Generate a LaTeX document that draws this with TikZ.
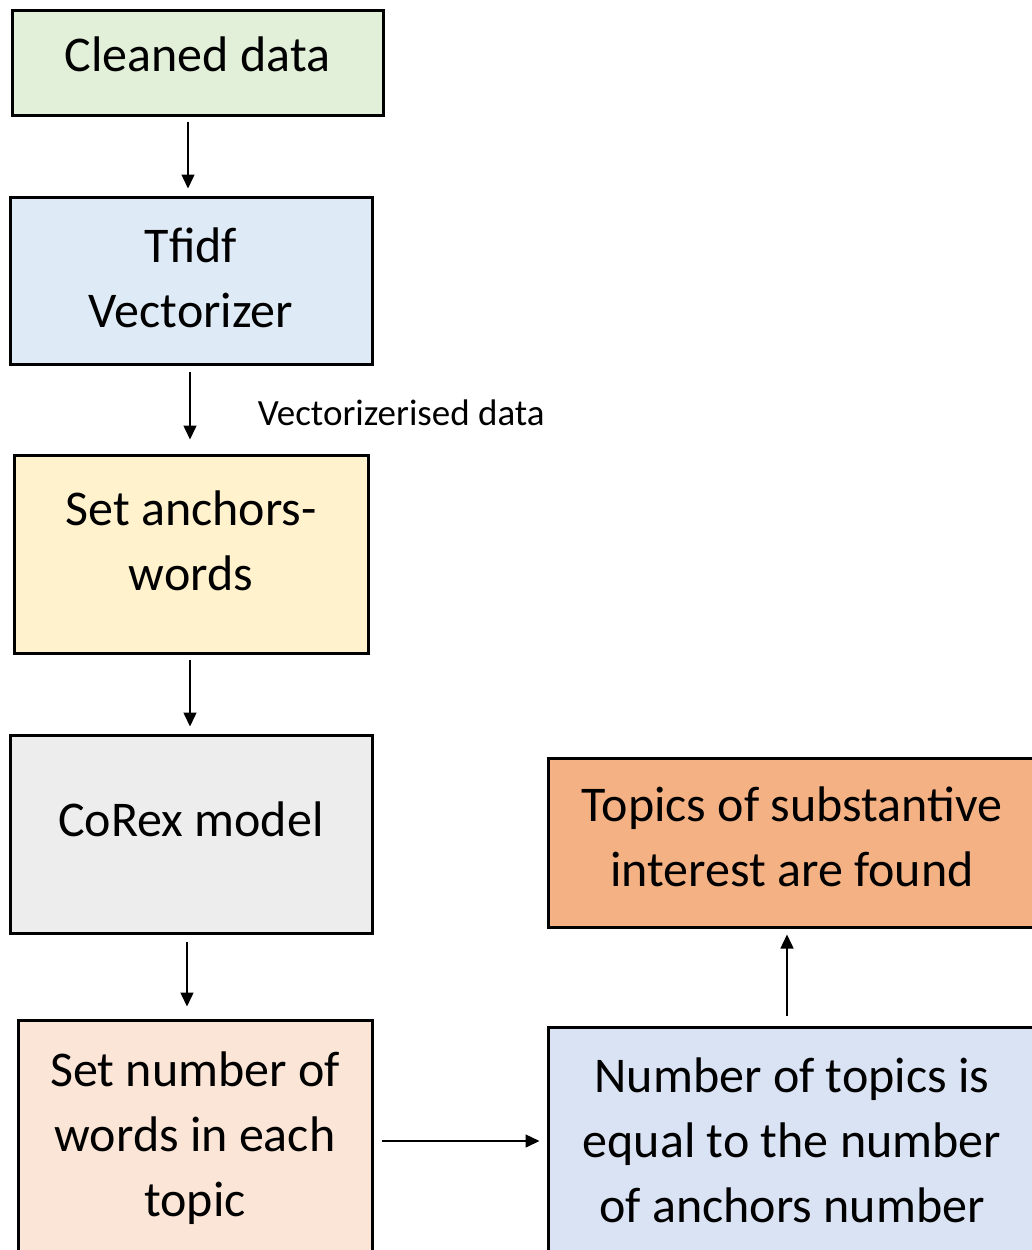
\documentclass[tikz,border=0pt]{standalone}
\usepackage{fontspec}
\setmainfont{Carlito}
\usetikzlibrary{arrows.meta}
\definecolor{cgreen}{HTML}{E2F0D9}
\definecolor{cblue}{HTML}{DEEBF7}
\definecolor{cyellow}{HTML}{FFF2CC}
\definecolor{cgrey}{HTML}{EDEDED}
\definecolor{cpeach}{HTML}{FBE5D6}
\definecolor{cslate}{HTML}{DAE3F3}
\definecolor{corange}{HTML}{F4B183}
% centred lines of text, lifted by #1 without changing the box size
\newcommand\boxtext[2]{\raisebox{#1}[\height][\depth]{\begin{tabular}{@{}c@{}}#2\end{tabular}}}
\tikzset{
  box/.style={draw=black, line width=3pt, inner sep=0pt, align=center,
    font=\fontsize{50}{65}\selectfont},
  arr/.style={line width=1.5pt, -{Triangle[length=14pt,width=13pt]}},
  lbl/.style={font=\fontsize{37}{42}\selectfont, inner sep=0pt}
}
\begin{document}
\begin{tikzpicture}[x=1pt,y=-1pt]
\useasboundingbox (0,0) rectangle (1032,1250);
\clip (0,0) rectangle (1032,1250);
% process steps
\node[box, fill=cgreen, minimum width=371pt, minimum height=105pt] (clean) at (197.5,62.5) {\boxtext{4pt}{Cleaned data}};
\node[box, fill=cblue, minimum width=362pt, minimum height=167pt] (tfidf) at (191,280.5) {\boxtext{-1pt}{Tfidf\\Vectorizer}};
\node[box, fill=cyellow, minimum width=354pt, minimum height=198pt] (anchor) at (191,554) {\boxtext{9pt}{Set anchors-\\words}};
\node[box, fill=cgrey, minimum width=362pt, minimum height=198pt] (corex) at (191,834) {\boxtext{11pt}{CoRex model}};
\node[box, fill=cpeach, minimum width=354pt, minimum height=240pt] (nwords) at (195,1140) {\boxtext{2pt}{Set number of\\words in each\\topic}};
\node[box, fill=cslate, minimum width=488pt, minimum height=236pt] (ntopics) at (792,1145) {\boxtext{1pt}{Number of topics is\\equal to the number\\of anchors number}};
\node[box, fill=corange, minimum width=488pt, minimum height=169pt] (found) at (792,842.5) {\boxtext{2pt}{Topics of substantive\\interest are found}};
% connectors
\draw[arr, shorten <=5pt, shorten >=7pt] (188,0 |- clean.south) -- (188,0 |- tfidf.north);
\draw[arr, shorten <=6pt, shorten >=14pt] (190,0 |- tfidf.south) -- (190,0 |- anchor.north)
  node[lbl, pos=0.5, anchor=west, xshift=67pt, yshift=-3pt] (vlabel) {Vectorizerised data};
\draw[arr, shorten <=5pt, shorten >=7pt] (190,0 |- anchor.south) -- (190,0 |- corex.north);
\draw[arr, shorten <=7pt, shorten >=12pt] (187,0 |- corex.south) -- (187,0 |- nwords.north);
\draw[arr, shorten <=8pt, shorten >=7pt] (nwords.east |- 0,1141) -- (ntopics.west |- 0,1141);
\draw[arr, shorten <=10pt, shorten >=6pt] (787,0 |- ntopics.north) -- (787,0 |- found.south);
\end{tikzpicture}
\end{document}
